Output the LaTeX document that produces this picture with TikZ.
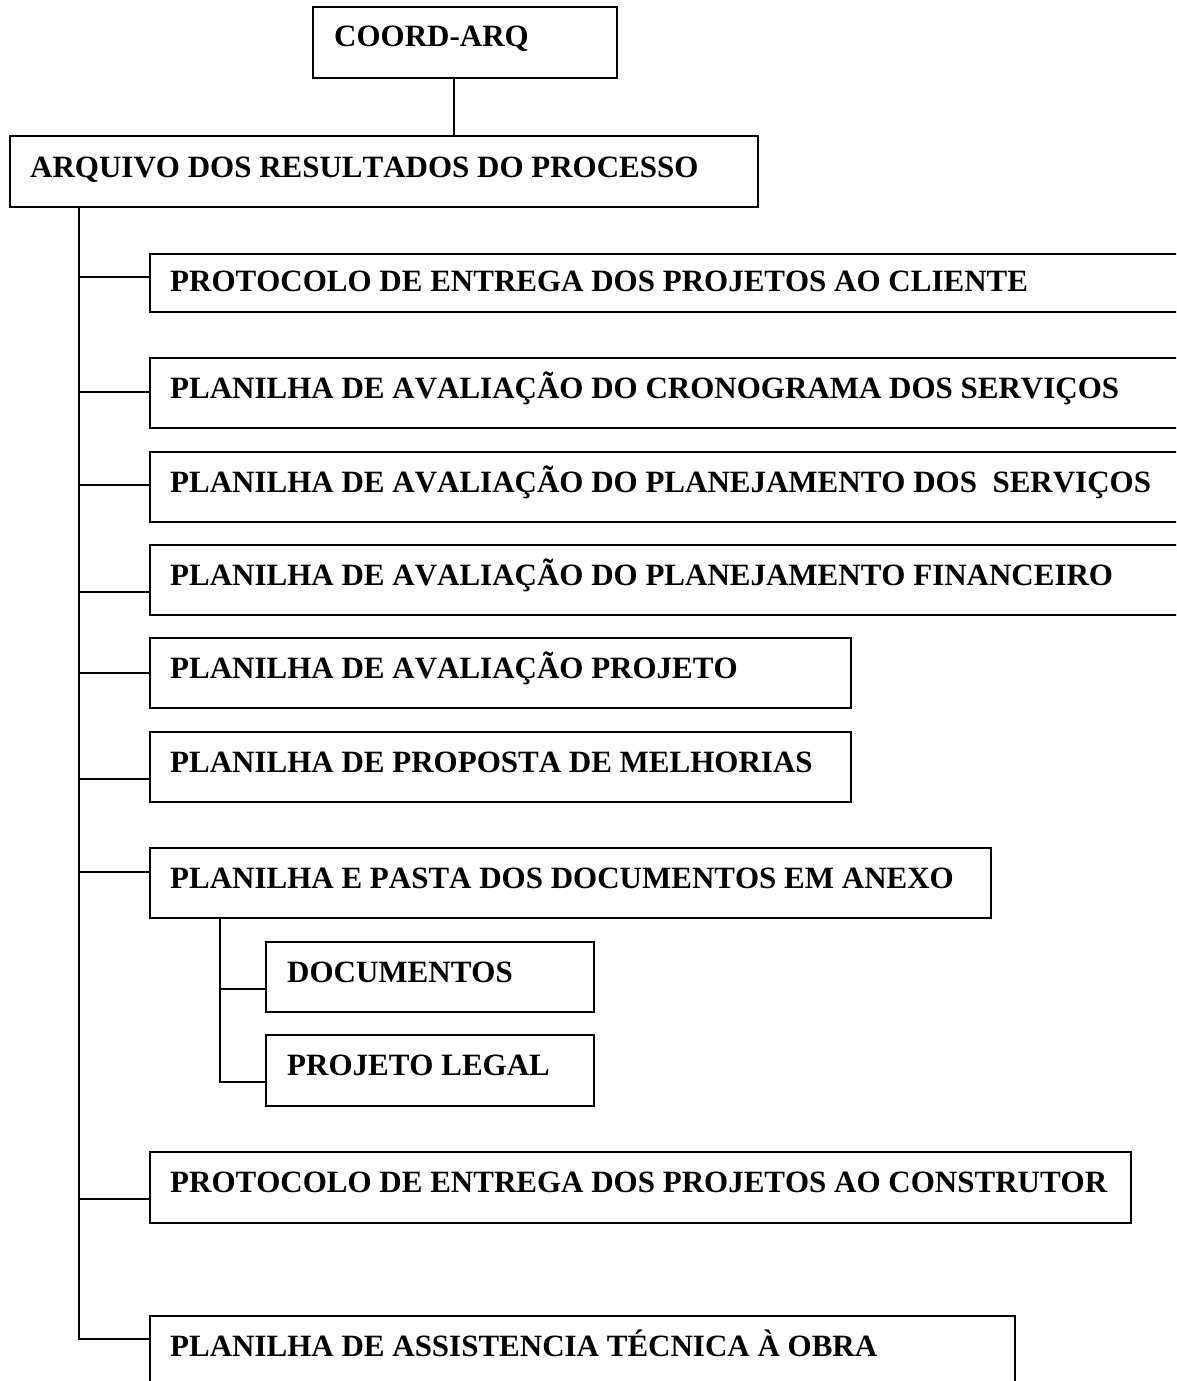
\documentclass[tikz,border=0pt]{standalone}
\usepackage{fontspec}
\setmainfont[Kerning=Off]{Liberation Serif}
\begin{document}
\begin{tikzpicture}[x=1pt,y=-1pt,
  box/.style={draw=black, line width=1.4pt, fill=white, anchor=north west,
    inner sep=0pt, outer sep=0pt},
  lbl/.style={anchor=base west, inner sep=0pt,
    font=\fontsize{31}{36}\selectfont\bfseries},
  wire/.style={draw=black, line width=1.3pt}]
\useasboundingbox (0,0) rectangle (1176,1381);
\clip (0,0) rectangle (1176,1381);

% top of the hierarchy
\node[box, minimum width=304, minimum height=71] (coord) at (313,7) {};
\node[lbl] (tcoord) at ([shift={(21,40)}]coord.north west) {COORD-ARQ};

\node[box, minimum width=748, minimum height=71] (arq) at (10,136) {};
\node[lbl] (tarq) at ([shift={(20,41)}]arq.north west) {ARQUIVO DOS RESULTADOS DO PROCESSO};

\draw[wire] ([xshift=-11]coord.south) -- ([xshift=-11]coord.south |- arq.north);

% documents filed under the process archive
\node[box, minimum width=1100, minimum height=58] (p1) at (150,254) {};
\node[lbl] at ([shift={(20,37)}]p1.north west) {PROTOCOLO DE ENTREGA DOS PROJETOS AO CLIENTE};

\node[box, minimum width=1100, minimum height=70] (p2) at (150,358) {};
\node[lbl] at ([shift={(20,40)}]p2.north west) {PLANILHA DE AVALIAÇÃO DO CRONOGRAMA DOS SERVIÇOS};

\node[box, minimum width=1100, minimum height=70] (p3) at (150,452) {};
\node[lbl] at ([shift={(20,40)}]p3.north west) {PLANILHA DE AVALIAÇÃO DO PLANEJAMENTO DOS\ \ SERVIÇOS};

\node[box, minimum width=1100, minimum height=70] (p4) at (150,545) {};
\node[lbl] at ([shift={(20,40)}]p4.north west) {PLANILHA DE AVALIAÇÃO DO PLANEJAMENTO FINANCEIRO};

\node[box, minimum width=701, minimum height=70] (p5) at (150,638) {};
\node[lbl] at ([shift={(20,40)}]p5.north west) {PLANILHA DE AVALIAÇÃO PROJETO};

\node[box, minimum width=701, minimum height=70] (p6) at (150,732) {};
\node[lbl] at ([shift={(20,40)}]p6.north west) {PLANILHA DE PROPOSTA DE MELHORIAS};

\node[box, minimum width=841, minimum height=70] (p7) at (150,848) {};
\node[lbl] at ([shift={(20,40)}]p7.north west) {PLANILHA E PASTA DOS DOCUMENTOS EM ANEXO};

\node[box, minimum width=328, minimum height=70] (s1) at (266,942) {};
\node[lbl] at ([shift={(21,40)}]s1.north west) {DOCUMENTOS};

\node[box, minimum width=328, minimum height=71] (s2) at (266,1035) {};
\node[lbl] at ([shift={(21,40)}]s2.north west) {PROJETO LEGAL};

\node[box, minimum width=981, minimum height=71] (p8) at (150,1152) {};
\node[lbl] at ([shift={(20,40)}]p8.north west) {PROTOCOLO DE ENTREGA DOS PROJETOS AO CONSTRUTOR};

\node[box, minimum width=865, minimum height=100] (p9) at (150,1316) {};
\node[lbl] at ([shift={(20,40)}]p9.north west) {PLANILHA DE ASSISTENCIA TÉCNICA À OBRA};

% main trunk and its branches
\coordinate (trk) at (79,0);
\coordinate (b1) at (79,277);
\coordinate (b2) at (79,392);
\coordinate (b3) at (79,485);
\coordinate (b4) at (79,592);
\coordinate (b5) at (79,673);
\coordinate (b6) at (79,779);
\coordinate (b7) at (79,872);
\coordinate (b8) at (79,1199);
\coordinate (b9) at (79,1339);

\draw[wire] (trk |- arq.south) -- (b9) -- (p9.west |- b9);
\foreach \b/\p in {b1/p1,b2/p2,b3/p3,b4/p4,b5/p5,b6/p6,b7/p7,b8/p8}
  \draw[wire] (\b) -- (\p.west |- \b);

% sub-branch for the annexed documents
\coordinate (c1) at (220,989);
\coordinate (c2) at (220,1082);
\draw[wire] (c1 |- p7.south) -- (c2) -- (s2.west |- c2);
\draw[wire] (c1) -- (s1.west |- c1);
\end{tikzpicture}
\end{document}
